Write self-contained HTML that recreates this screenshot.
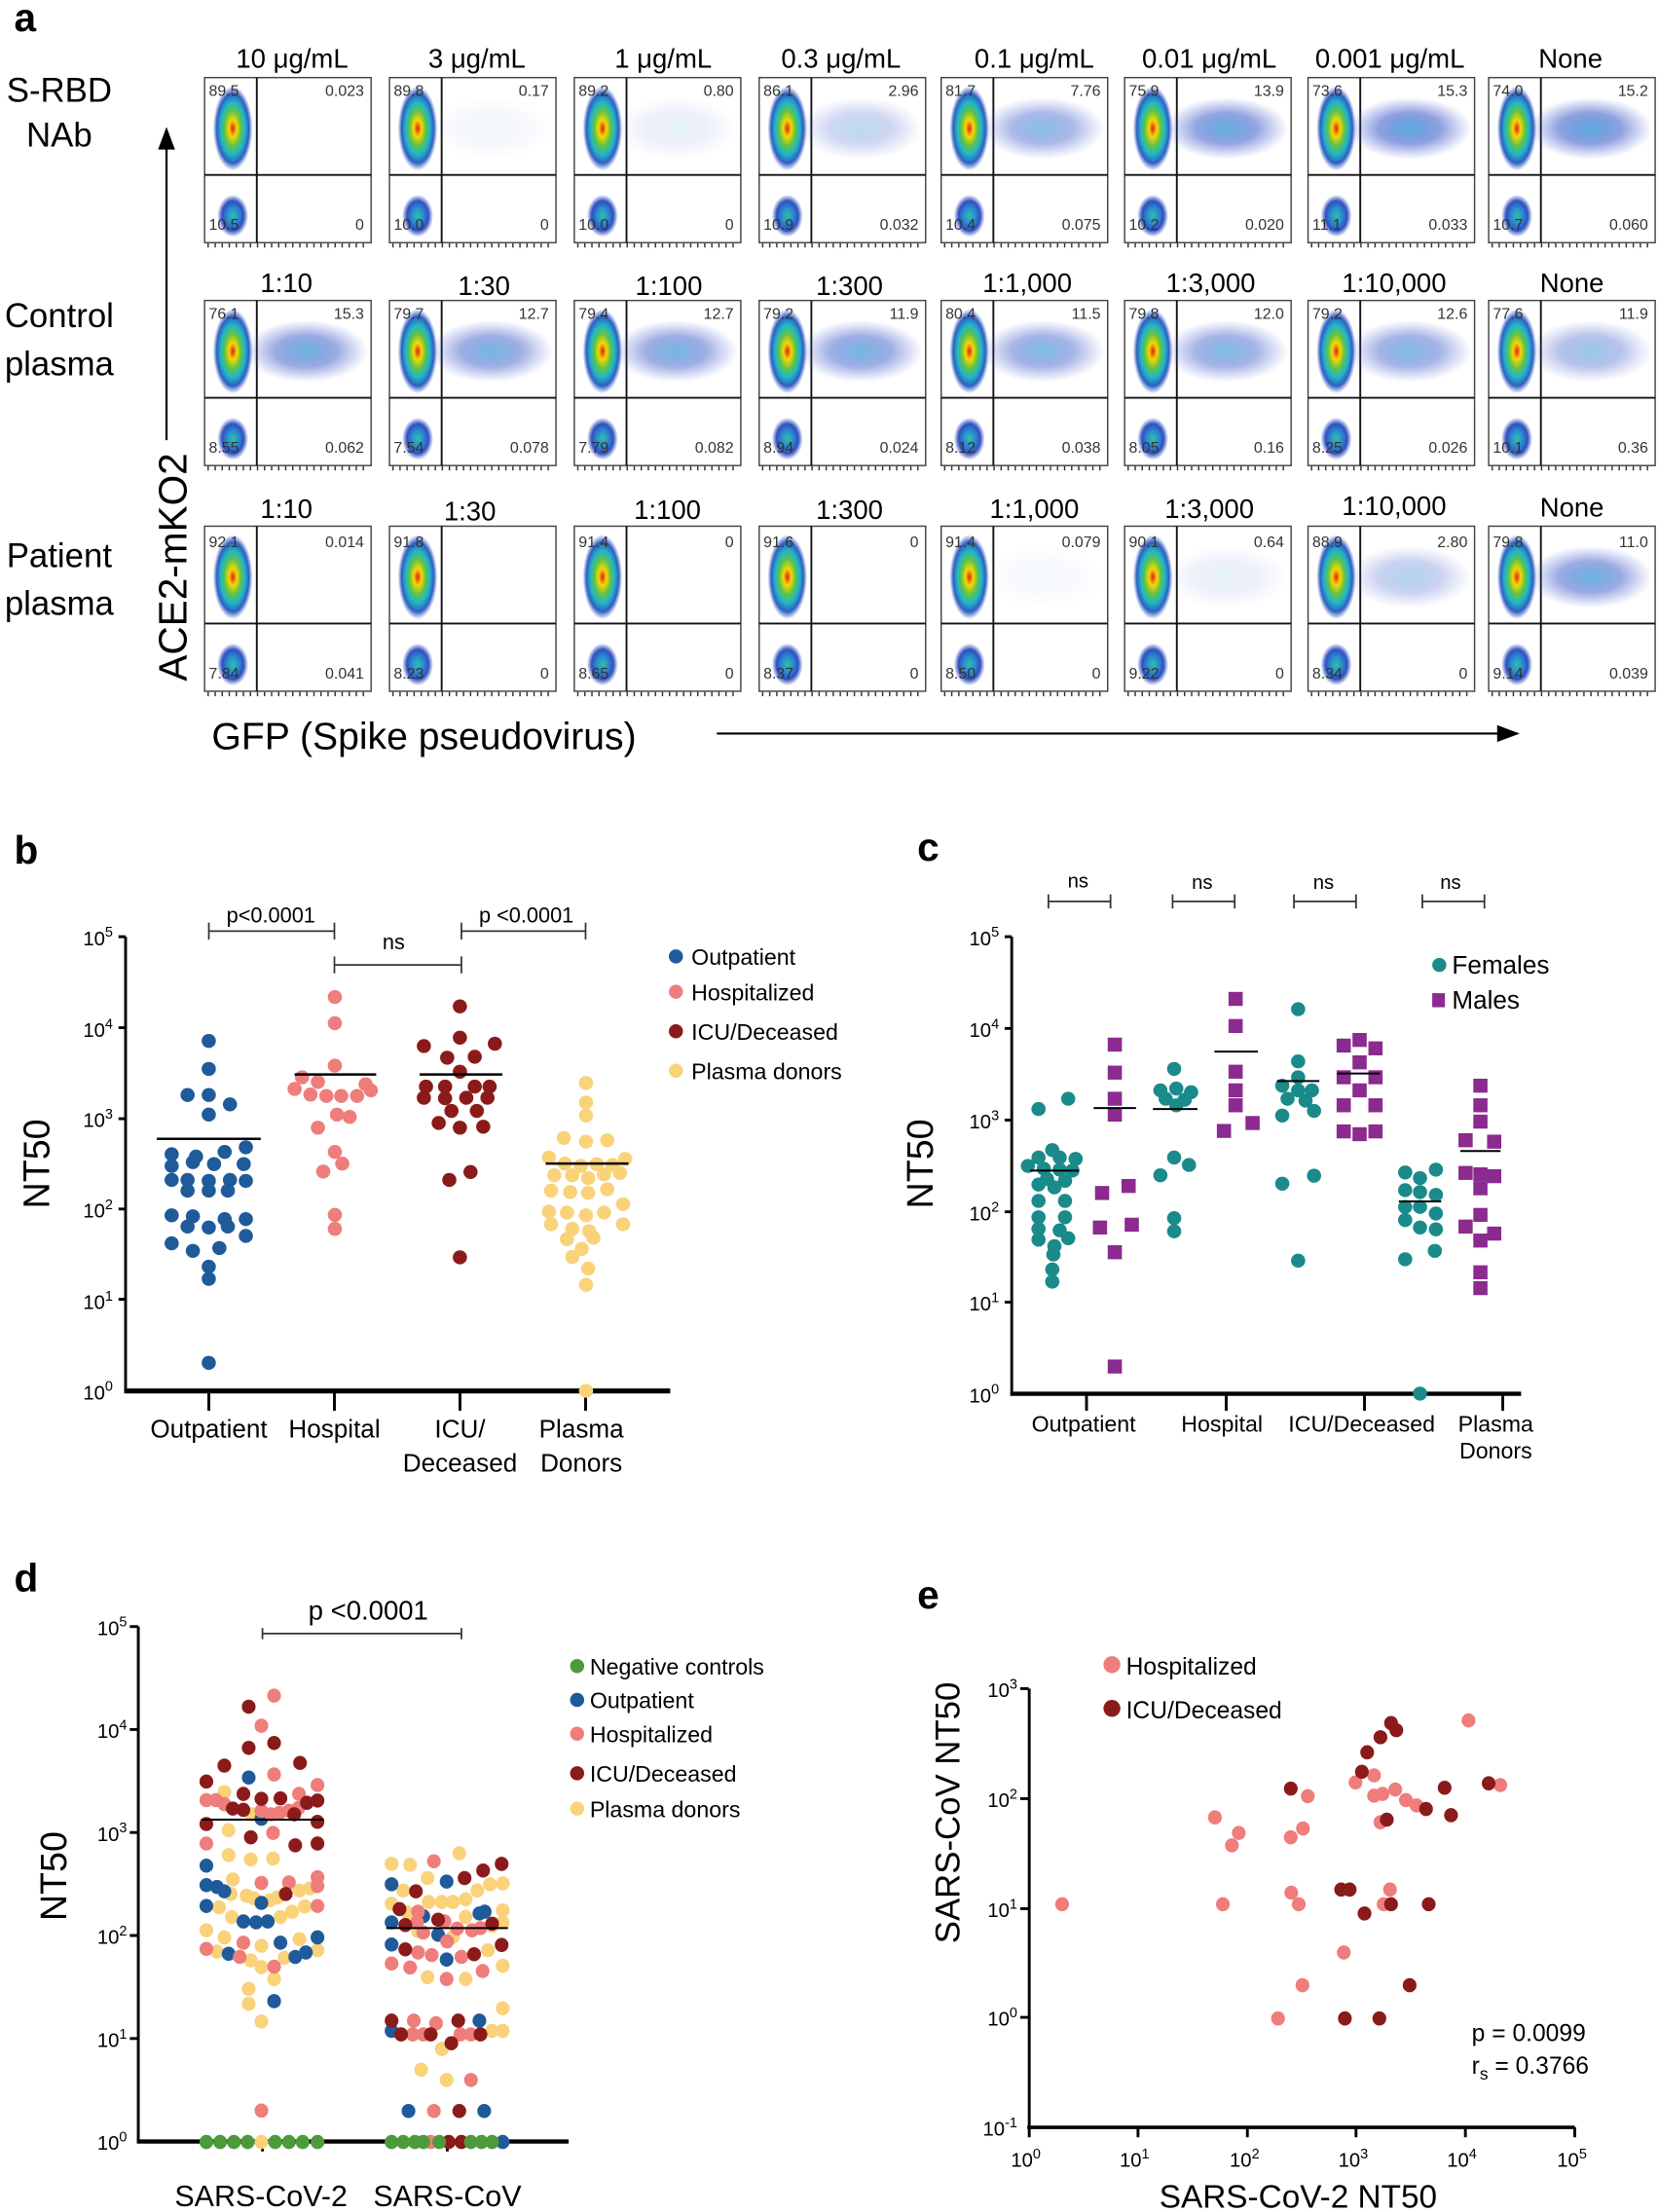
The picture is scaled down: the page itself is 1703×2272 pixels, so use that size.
<!DOCTYPE html>
<html><head><meta charset="utf-8"><style>
html,body{margin:0;padding:0;background:#fff}
svg{display:block}
text{font-family:"Liberation Sans",sans-serif}
.n{font-size:11px;fill:#333}
.h{font-size:19px}
.rl{font-size:24px}
.tk{font-size:14px}
.lg{font-size:16px}
</style></head><body>
<svg width="1703" height="2272" viewBox="0 0 1175 1568" preserveAspectRatio="none" xmlns="http://www.w3.org/2000/svg">
<defs>
<radialGradient id="hot"><stop offset="0" stop-color="#e0201a"/><stop offset="0.2" stop-color="#f5d800"/><stop offset="0.42" stop-color="#5ec24a"/><stop offset="0.62" stop-color="#21b6c9"/><stop offset="0.82" stop-color="#2f5fc0"/><stop offset="1" stop-color="#3b5fd0" stop-opacity="0"/></radialGradient>
<radialGradient id="cool"><stop offset="0" stop-color="#30c0a0"/><stop offset="0.35" stop-color="#2a90d0"/><stop offset="0.7" stop-color="#3050c0"/><stop offset="1" stop-color="#3050c0" stop-opacity="0"/></radialGradient>
<radialGradient id="cld"><stop offset="0" stop-color="#3aa0d8" stop-opacity="0.9"/><stop offset="0.5" stop-color="#3a58c8" stop-opacity="0.6"/><stop offset="1" stop-color="#4a60d0" stop-opacity="0"/></radialGradient>
<symbol id="fp" overflow="visible">
<rect x="0" y="0" width="118" height="117" fill="#fff" stroke="#444" stroke-width="1"/>
<ellipse cx="20" cy="36" rx="14" ry="30" fill="url(#hot)"/>
<ellipse cx="20" cy="98" rx="11" ry="15" fill="url(#cool)"/>
<line x1="0" y1="69" x2="118" y2="69" stroke="#111" stroke-width="1.3"/>
<line x1="37" y1="0" x2="37" y2="117" stroke="#111" stroke-width="1.3"/>
<line x1="2" y1="119" x2="116" y2="119" stroke="#333" stroke-width="3" stroke-dasharray="1 4"/>
</symbol>
<symbol id="cl" overflow="visible"><ellipse cx="72" cy="36" rx="44" ry="22" fill="url(#cld)"/></symbol>
<ellipse id="db" rx="6.7" ry="15"/>
<rect id="sq" x="-6.7" y="-15" width="13.4" height="30"/>
<ellipse id="dd" rx="13" ry="16"/>
</defs>

<!-- Panel a -->
<text x="10" y="22" style="font-size:28px;font-weight:bold">a</text>
<text class="rl" x="42" y="72" text-anchor="middle">S-RBD</text>
<text class="rl" x="42" y="104" text-anchor="middle">NAb</text>
<text class="rl" x="42" y="232" text-anchor="middle">Control</text>
<text class="rl" x="42" y="266" text-anchor="middle">plasma</text>
<text class="rl" x="42" y="402" text-anchor="middle">Patient</text>
<text class="rl" x="42" y="436" text-anchor="middle">plasma</text>
<line x1="118" y1="312" x2="118" y2="100" stroke="#000" stroke-width="1.5"/>
<polygon points="118,90 112,106 124,106" fill="#000"/>
<text x="132" y="402" transform="rotate(-90 132 402)" text-anchor="middle" style="font-size:28px">ACE2-mKO2</text>
<text x="150" y="531" style="font-size:27px">GFP (Spike pseudovirus)</text>
<line x1="508" y1="520" x2="1065" y2="520" stroke="#000" stroke-width="1.5"/>
<polygon points="1077,520 1061,514 1061,526" fill="#000"/>

<g class="h" text-anchor="middle">
<text x="207" y="48">10 μg/mL</text><text x="338" y="48">3 μg/mL</text><text x="470" y="48">1 μg/mL</text><text x="596" y="48">0.3 μg/mL</text><text x="733" y="48">0.1 μg/mL</text><text x="857" y="48">0.01 μg/mL</text><text x="985" y="48">0.001 μg/mL</text><text x="1113" y="48">None</text>
<text x="203" y="207">1:10</text><text x="343" y="209">1:30</text><text x="474" y="209">1:100</text><text x="602" y="209">1:300</text><text x="728" y="207">1:1,000</text><text x="858" y="207">1:3,000</text><text x="988" y="207">1:10,000</text><text x="1114" y="207">None</text>
<text x="203" y="367">1:10</text><text x="333" y="369">1:30</text><text x="473" y="368">1:100</text><text x="602" y="368">1:300</text><text x="733" y="367">1:1,000</text><text x="857" y="367">1:3,000</text><text x="988" y="365">1:10,000</text><text x="1114" y="366">None</text>
</g>

<g transform="translate(145,55)"><use href="#fp"/><text class="n" x="3" y="13">89.5</text><text class="n" x="113" y="13" text-anchor="end">0.023</text><text class="n" x="3" y="108">10.5</text><text class="n" x="113" y="108" text-anchor="end">0</text></g>
<g transform="translate(276,55)"><use href="#fp"/><use href="#cl" opacity="0.08"/><text class="n" x="3" y="13">89.8</text><text class="n" x="113" y="13" text-anchor="end">0.17</text><text class="n" x="3" y="108">10.0</text><text class="n" x="113" y="108" text-anchor="end">0</text></g>
<g transform="translate(407,55)"><use href="#fp"/><use href="#cl" opacity="0.15"/><text class="n" x="3" y="13">89.2</text><text class="n" x="113" y="13" text-anchor="end">0.80</text><text class="n" x="3" y="108">10.0</text><text class="n" x="113" y="108" text-anchor="end">0</text></g>
<g transform="translate(538,55)"><use href="#fp"/><use href="#cl" opacity="0.4"/><text class="n" x="3" y="13">86.1</text><text class="n" x="113" y="13" text-anchor="end">2.96</text><text class="n" x="3" y="108">10.9</text><text class="n" x="113" y="108" text-anchor="end">0.032</text></g>
<g transform="translate(667,55)"><use href="#fp"/><use href="#cl" opacity="0.7"/><text class="n" x="3" y="13">81.7</text><text class="n" x="113" y="13" text-anchor="end">7.76</text><text class="n" x="3" y="108">10.4</text><text class="n" x="113" y="108" text-anchor="end">0.075</text></g>
<g transform="translate(797,55)"><use href="#fp"/><use href="#cl" opacity="0.9"/><text class="n" x="3" y="13">75.9</text><text class="n" x="113" y="13" text-anchor="end">13.9</text><text class="n" x="3" y="108">10.2</text><text class="n" x="113" y="108" text-anchor="end">0.020</text></g>
<g transform="translate(927,55)"><use href="#fp"/><use href="#cl" opacity="0.95"/><text class="n" x="3" y="13">73.6</text><text class="n" x="113" y="13" text-anchor="end">15.3</text><text class="n" x="3" y="108">11.1</text><text class="n" x="113" y="108" text-anchor="end">0.033</text></g>
<g transform="translate(1055,55)"><use href="#fp"/><use href="#cl" opacity="0.95"/><text class="n" x="3" y="13">74.0</text><text class="n" x="113" y="13" text-anchor="end">15.2</text><text class="n" x="3" y="108">10.7</text><text class="n" x="113" y="108" text-anchor="end">0.060</text></g>

<g transform="translate(145,213)"><use href="#fp"/><use href="#cl" opacity="0.85"/><text class="n" x="3" y="13">76.1</text><text class="n" x="113" y="13" text-anchor="end">15.3</text><text class="n" x="3" y="108">8.55</text><text class="n" x="113" y="108" text-anchor="end">0.062</text></g>
<g transform="translate(276,213)"><use href="#fp"/><use href="#cl" opacity="0.8"/><text class="n" x="3" y="13">79.7</text><text class="n" x="113" y="13" text-anchor="end">12.7</text><text class="n" x="3" y="108">7.54</text><text class="n" x="113" y="108" text-anchor="end">0.078</text></g>
<g transform="translate(407,213)"><use href="#fp"/><use href="#cl" opacity="0.8"/><text class="n" x="3" y="13">79.4</text><text class="n" x="113" y="13" text-anchor="end">12.7</text><text class="n" x="3" y="108">7.79</text><text class="n" x="113" y="108" text-anchor="end">0.082</text></g>
<g transform="translate(538,213)"><use href="#fp"/><use href="#cl" opacity="0.8"/><text class="n" x="3" y="13">79.2</text><text class="n" x="113" y="13" text-anchor="end">11.9</text><text class="n" x="3" y="108">8.94</text><text class="n" x="113" y="108" text-anchor="end">0.024</text></g>
<g transform="translate(667,213)"><use href="#fp"/><use href="#cl" opacity="0.75"/><text class="n" x="3" y="13">80.4</text><text class="n" x="113" y="13" text-anchor="end">11.5</text><text class="n" x="3" y="108">8.12</text><text class="n" x="113" y="108" text-anchor="end">0.038</text></g>
<g transform="translate(797,213)"><use href="#fp"/><use href="#cl" opacity="0.75"/><text class="n" x="3" y="13">79.8</text><text class="n" x="113" y="13" text-anchor="end">12.0</text><text class="n" x="3" y="108">8.05</text><text class="n" x="113" y="108" text-anchor="end">0.16</text></g>
<g transform="translate(927,213)"><use href="#fp"/><use href="#cl" opacity="0.75"/><text class="n" x="3" y="13">79.2</text><text class="n" x="113" y="13" text-anchor="end">12.6</text><text class="n" x="3" y="108">8.25</text><text class="n" x="113" y="108" text-anchor="end">0.026</text></g>
<g transform="translate(1055,213)"><use href="#fp"/><use href="#cl" opacity="0.6"/><text class="n" x="3" y="13">77.6</text><text class="n" x="113" y="13" text-anchor="end">11.9</text><text class="n" x="3" y="108">10.1</text><text class="n" x="113" y="108" text-anchor="end">0.36</text></g>

<g transform="translate(145,373)"><use href="#fp"/><text class="n" x="3" y="15">92.1</text><text class="n" x="113" y="15" text-anchor="end">0.014</text><text class="n" x="3" y="108">7.84</text><text class="n" x="113" y="108" text-anchor="end">0.041</text></g>
<g transform="translate(276,373)"><use href="#fp"/><text class="n" x="3" y="15">91.8</text><text class="n" x="3" y="108">8.23</text><text class="n" x="113" y="108" text-anchor="end">0</text></g>
<g transform="translate(407,373)"><use href="#fp"/><text class="n" x="3" y="15">91.4</text><text class="n" x="113" y="15" text-anchor="end">0</text><text class="n" x="3" y="108">8.65</text><text class="n" x="113" y="108" text-anchor="end">0</text></g>
<g transform="translate(538,373)"><use href="#fp"/><text class="n" x="3" y="15">91.6</text><text class="n" x="113" y="15" text-anchor="end">0</text><text class="n" x="3" y="108">8.37</text><text class="n" x="113" y="108" text-anchor="end">0</text></g>
<g transform="translate(667,373)"><use href="#fp"/><use href="#cl" opacity="0.06"/><text class="n" x="3" y="15">91.4</text><text class="n" x="113" y="15" text-anchor="end">0.079</text><text class="n" x="3" y="108">8.50</text><text class="n" x="113" y="108" text-anchor="end">0</text></g>
<g transform="translate(797,373)"><use href="#fp"/><use href="#cl" opacity="0.15"/><text class="n" x="3" y="15">90.1</text><text class="n" x="113" y="15" text-anchor="end">0.64</text><text class="n" x="3" y="108">9.22</text><text class="n" x="113" y="108" text-anchor="end">0</text></g>
<g transform="translate(927,373)"><use href="#fp"/><use href="#cl" opacity="0.45"/><text class="n" x="3" y="15">88.9</text><text class="n" x="113" y="15" text-anchor="end">2.80</text><text class="n" x="3" y="108">8.34</text><text class="n" x="113" y="108" text-anchor="end">0</text></g>
<g transform="translate(1055,373)"><use href="#fp"/><use href="#cl" opacity="0.85"/><text class="n" x="3" y="15">79.8</text><text class="n" x="113" y="15" text-anchor="end">11.0</text><text class="n" x="3" y="108">9.14</text><text class="n" x="113" y="108" text-anchor="end">0.039</text></g>

<!-- Panel b -->
<text x="10" y="612" style="font-size:28px;font-weight:bold">b</text>
<text x="35" y="825" transform="rotate(-90 35 825)" text-anchor="middle" style="font-size:26px">NT50</text>
<g stroke="#000" stroke-width="2" fill="none">
<line x1="89" y1="664" x2="89" y2="987"/>
<line x1="88" y1="986" x2="475" y2="986" stroke-width="3.5"/>
<path d="M84 664H89M84 728.5H89M84 793H89M84 857H89M84 921H89"/>
<path d="M148 986V1000M237 986V1000M326 986V1000M415 986V1000"/>
</g>
<g class="tk" text-anchor="end">
<text x="80" y="670">10<tspan dy="-6" font-size="10">5</tspan></text>
<text x="80" y="735">10<tspan dy="-6" font-size="10">4</tspan></text>
<text x="80" y="799">10<tspan dy="-6" font-size="10">3</tspan></text>
<text x="80" y="863">10<tspan dy="-6" font-size="10">2</tspan></text>
<text x="80" y="928">10<tspan dy="-6" font-size="10">1</tspan></text>
<text x="80" y="992">10<tspan dy="-6" font-size="10">0</tspan></text>
</g>
<g text-anchor="middle" style="font-size:18px">
<text x="148" y="1019">Outpatient</text><text x="237" y="1019">Hospital</text><text x="326" y="1019">ICU/</text><text x="326" y="1043">Deceased</text><text x="412" y="1019">Plasma</text><text x="412" y="1043">Donors</text>
</g>
<g stroke="#333" stroke-width="1.2" fill="none">
<path d="M148 654V666M148 660H237M237 654V666"/>
<path d="M237 678V690M237 684H327M327 678V690"/>
<path d="M327 654V666M327 660H415M415 654V666"/>
</g>
<g text-anchor="middle" style="font-size:15px"><text x="192" y="654">p&lt;0.0001</text><text x="279" y="673">ns</text><text x="373" y="654">p &lt;0.0001</text></g>
<circle cx="479" cy="678" r="5" fill="#1f5a9a"/><circle cx="479" cy="703" r="5" fill="#ef7d7b"/><circle cx="479" cy="731" r="5" fill="#8b1a1a"/><circle cx="479" cy="759" r="5" fill="#f9d27a"/>
<g class="lg"><text x="490" y="684">Outpatient</text><text x="490" y="709">Hospitalized</text><text x="490" y="737">ICU/Deceased</text><text x="490" y="765">Plasma donors</text></g>

<g transform="translate(0,552) scale(0.751,0.3307)">
<g fill="#1f5a9a">
<use href="#db" x="197" y="562"/><use href="#db" x="197" y="622"/><use href="#db" x="177" y="678"/><use href="#db" x="197" y="678"/><use href="#db" x="217" y="698"/><use href="#db" x="197" y="720"/><use href="#db" x="232" y="790"/><use href="#db" x="162" y="805"/><use href="#db" x="185" y="810"/><use href="#db" x="212" y="800"/><use href="#db" x="162" y="830"/><use href="#db" x="182" y="822"/><use href="#db" x="202" y="826"/><use href="#db" x="230" y="826"/><use href="#db" x="162" y="860"/><use href="#db" x="177" y="860"/><use href="#db" x="197" y="862"/><use href="#db" x="217" y="860"/><use href="#db" x="232" y="862"/><use href="#db" x="177" y="883"/><use href="#db" x="197" y="883"/><use href="#db" x="215" y="883"/><use href="#db" x="162" y="936"/><use href="#db" x="182" y="938"/><use href="#db" x="212" y="944"/><use href="#db" x="232" y="944"/><use href="#db" x="177" y="960"/><use href="#db" x="197" y="962"/><use href="#db" x="215" y="960"/><use href="#db" x="232" y="980"/><use href="#db" x="162" y="996"/><use href="#db" x="182" y="1012"/><use href="#db" x="207" y="1006"/><use href="#db" x="197" y="1046"/><use href="#db" x="197" y="1072"/><use href="#db" x="197" y="1252"/>
</g>
<g fill="#ef7d7b">
<use href="#db" x="316" y="468"/><use href="#db" x="316" y="524"/><use href="#db" x="316" y="615"/><use href="#db" x="285" y="640"/><use href="#db" x="300" y="650"/><use href="#db" x="345" y="655"/><use href="#db" x="278" y="665"/><use href="#db" x="293" y="677"/><use href="#db" x="308" y="680"/><use href="#db" x="322" y="680"/><use href="#db" x="337" y="680"/><use href="#db" x="350" y="668"/><use href="#db" x="318" y="720"/><use href="#db" x="300" y="748"/><use href="#db" x="330" y="725"/><use href="#db" x="316" y="800"/><use href="#db" x="323" y="825"/><use href="#db" x="305" y="842"/><use href="#db" x="316" y="935"/><use href="#db" x="316" y="965"/>
</g>
<g fill="#8b1a1a">
<use href="#db" x="434" y="488"/><use href="#db" x="434" y="555"/><use href="#db" x="400" y="573"/><use href="#db" x="467" y="568"/><use href="#db" x="422" y="598"/><use href="#db" x="448" y="596"/><use href="#db" x="434" y="628"/><use href="#db" x="402" y="660"/><use href="#db" x="420" y="660"/><use href="#db" x="448" y="660"/><use href="#db" x="462" y="660"/><use href="#db" x="400" y="684"/><use href="#db" x="420" y="685"/><use href="#db" x="440" y="684"/><use href="#db" x="460" y="684"/><use href="#db" x="426" y="712"/><use href="#db" x="450" y="712"/><use href="#db" x="414" y="738"/><use href="#db" x="434" y="748"/><use href="#db" x="456" y="746"/><use href="#db" x="444" y="843"/><use href="#db" x="424" y="860"/><use href="#db" x="434" y="1026"/>
</g>
<g fill="#f9d27a">
<use href="#db" x="553" y="652"/><use href="#db" x="553" y="694"/><use href="#db" x="553" y="722"/><use href="#db" x="532" y="770"/><use href="#db" x="553" y="778"/><use href="#db" x="573" y="775"/><use href="#db" x="518" y="812"/><use href="#db" x="533" y="825"/><use href="#db" x="548" y="830"/><use href="#db" x="563" y="826"/><use href="#db" x="578" y="828"/><use href="#db" x="590" y="815"/><use href="#db" x="523" y="850"/><use href="#db" x="540" y="850"/><use href="#db" x="555" y="856"/><use href="#db" x="570" y="848"/><use href="#db" x="585" y="845"/><use href="#db" x="520" y="883"/><use href="#db" x="538" y="886"/><use href="#db" x="555" y="888"/><use href="#db" x="573" y="880"/><use href="#db" x="588" y="912"/><use href="#db" x="518" y="928"/><use href="#db" x="535" y="930"/><use href="#db" x="553" y="936"/><use href="#db" x="570" y="930"/><use href="#db" x="520" y="955"/><use href="#db" x="540" y="965"/><use href="#db" x="556" y="970"/><use href="#db" x="588" y="955"/><use href="#db" x="535" y="987"/><use href="#db" x="560" y="984"/><use href="#db" x="549" y="1008"/><use href="#db" x="540" y="1025"/><use href="#db" x="555" y="1050"/><use href="#db" x="553" y="1085"/><use href="#db" x="553" y="1312"/>
</g>
<g stroke="#000" stroke-width="2.5">
<line x1="148" y1="772" x2="246" y2="772" vector-effect="non-scaling-stroke"/><line x1="278" y1="634" x2="355" y2="634" vector-effect="non-scaling-stroke"/><line x1="396" y1="634" x2="474" y2="634" vector-effect="non-scaling-stroke"/><line x1="515" y1="825" x2="593" y2="825" vector-effect="non-scaling-stroke"/>
</g>
</g>

<!-- Panel c -->
<text x="650" y="610" style="font-size:28px;font-weight:bold">c</text>
<text x="661" y="825" transform="rotate(-90 661 825)" text-anchor="middle" style="font-size:26px">NT50</text>
<g stroke="#000" stroke-width="2" fill="none">
<line x1="717" y1="664" x2="717" y2="989"/>
<line x1="716" y1="988" x2="1078" y2="988" stroke-width="3"/>
<path d="M712 664H717M712 729H717M712 794H717M712 859H717M712 923H717"/>
<path d="M770 988V1000M869 988V1000M967 988V1000M1065 988V1000"/>
</g>
<g class="tk" text-anchor="end">
<text x="708" y="670">10<tspan dy="-6" font-size="10">5</tspan></text>
<text x="708" y="735">10<tspan dy="-6" font-size="10">4</tspan></text>
<text x="708" y="800">10<tspan dy="-6" font-size="10">3</tspan></text>
<text x="708" y="865">10<tspan dy="-6" font-size="10">2</tspan></text>
<text x="708" y="929">10<tspan dy="-6" font-size="10">1</tspan></text>
<text x="708" y="994">10<tspan dy="-6" font-size="10">0</tspan></text>
</g>
<g text-anchor="middle" style="font-size:16px">
<text x="768" y="1015">Outpatient</text><text x="866" y="1015">Hospital</text><text x="965" y="1015">ICU/Deceased</text><text x="1060" y="1015">Plasma</text><text x="1060" y="1034">Donors</text>
</g>
<g stroke="#333" stroke-width="1.2" fill="none">
<path d="M743 634V644M743 639H787M787 634V644"/>
<path d="M831 634V644M831 639H875M875 634V644"/>
<path d="M917 634V644M917 639H961M961 634V644"/>
<path d="M1008 634V644M1008 639H1052M1052 634V644"/>
</g>
<g text-anchor="middle" style="font-size:14px"><text x="764" y="629">ns</text><text x="852" y="630">ns</text><text x="938" y="630">ns</text><text x="1028" y="630">ns</text></g>
<circle cx="1020" cy="684" r="5" fill="#1a8a8a"/><rect x="1015" y="704" width="9" height="10" fill="#8b2a8f"/>
<g style="font-size:18px"><text x="1029" y="690">Females</text><text x="1029" y="715">Males</text></g>

<g transform="translate(0,552) scale(0.751,0.3307)">
<g fill="#1a8a8a">
<use href="#db" x="980" y="708"/><use href="#db" x="1008" y="686"/><use href="#db" x="993" y="796"/><use href="#db" x="980" y="812"/><use href="#db" x="1000" y="812"/><use href="#db" x="1015" y="815"/><use href="#db" x="970" y="830"/><use href="#db" x="985" y="836"/><use href="#db" x="1000" y="838"/><use href="#db" x="1012" y="840"/><use href="#db" x="988" y="858"/><use href="#db" x="1005" y="862"/><use href="#db" x="980" y="870"/><use href="#db" x="995" y="876"/><use href="#db" x="980" y="905"/><use href="#db" x="1005" y="905"/><use href="#db" x="980" y="940"/><use href="#db" x="1005" y="940"/><use href="#db" x="980" y="965"/><use href="#db" x="1000" y="968"/><use href="#db" x="1008" y="985"/><use href="#db" x="980" y="988"/><use href="#db" x="995" y="1002"/><use href="#db" x="994" y="1020"/><use href="#db" x="993" y="1052"/><use href="#db" x="993" y="1078"/>
<use href="#db" x="1108" y="622"/><use href="#db" x="1095" y="668"/><use href="#db" x="1110" y="664"/><use href="#db" x="1124" y="672"/><use href="#db" x="1100" y="686"/><use href="#db" x="1118" y="688"/><use href="#db" x="1110" y="700"/><use href="#db" x="1108" y="812"/><use href="#db" x="1122" y="828"/><use href="#db" x="1095" y="850"/><use href="#db" x="1108" y="942"/><use href="#db" x="1108" y="970"/>
<use href="#db" x="1225" y="494"/><use href="#db" x="1225" y="606"/><use href="#db" x="1225" y="640"/><use href="#db" x="1210" y="658"/><use href="#db" x="1225" y="668"/><use href="#db" x="1238" y="668"/><use href="#db" x="1215" y="686"/><use href="#db" x="1232" y="690"/><use href="#db" x="1210" y="722"/><use href="#db" x="1240" y="712"/><use href="#db" x="1210" y="868"/><use href="#db" x="1240" y="851"/><use href="#db" x="1225" y="1033"/>
<use href="#db" x="1326" y="844"/><use href="#db" x="1340" y="856"/><use href="#db" x="1355" y="838"/><use href="#db" x="1326" y="882"/><use href="#db" x="1340" y="886"/><use href="#db" x="1355" y="892"/><use href="#db" x="1326" y="918"/><use href="#db" x="1340" y="918"/><use href="#db" x="1355" y="932"/><use href="#db" x="1326" y="946"/><use href="#db" x="1340" y="962"/><use href="#db" x="1355" y="966"/><use href="#db" x="1326" y="1030"/><use href="#db" x="1354" y="1012"/><use href="#db" x="1340" y="1318"/>
</g>
<g fill="#8b2a8f">
<use href="#sq" x="1052" y="570"/><use href="#sq" x="1052" y="630"/><use href="#sq" x="1052" y="686"/><use href="#sq" x="1052" y="720"/><use href="#sq" x="1040" y="888"/><use href="#sq" x="1065" y="873"/><use href="#sq" x="1038" y="962"/><use href="#sq" x="1068" y="956"/><use href="#sq" x="1052" y="1015"/><use href="#sq" x="1052" y="1260"/>
<use href="#sq" x="1166" y="472"/><use href="#sq" x="1166" y="530"/><use href="#sq" x="1166" y="628"/><use href="#sq" x="1166" y="668"/><use href="#sq" x="1166" y="700"/><use href="#sq" x="1155" y="755"/><use href="#sq" x="1182" y="738"/>
<use href="#sq" x="1283" y="560"/><use href="#sq" x="1268" y="572"/><use href="#sq" x="1298" y="578"/><use href="#sq" x="1283" y="608"/><use href="#sq" x="1268" y="640"/><use href="#sq" x="1298" y="640"/><use href="#sq" x="1283" y="668"/><use href="#sq" x="1268" y="700"/><use href="#sq" x="1298" y="700"/><use href="#sq" x="1268" y="756"/><use href="#sq" x="1298" y="756"/><use href="#sq" x="1283" y="762"/>
<use href="#sq" x="1397" y="658"/><use href="#sq" x="1397" y="700"/><use href="#sq" x="1397" y="735"/><use href="#sq" x="1383" y="775"/><use href="#sq" x="1410" y="778"/><use href="#sq" x="1383" y="845"/><use href="#sq" x="1397" y="848"/><use href="#sq" x="1410" y="852"/><use href="#sq" x="1397" y="878"/><use href="#sq" x="1383" y="960"/><use href="#sq" x="1410" y="975"/><use href="#sq" x="1397" y="935"/><use href="#sq" x="1397" y="990"/><use href="#sq" x="1397" y="1058"/><use href="#sq" x="1397" y="1092"/>
</g>
<g stroke="#000" stroke-width="2">
<line x1="972" y1="840" x2="1018" y2="840" vector-effect="non-scaling-stroke"/><line x1="1032" y1="706" x2="1072" y2="706" vector-effect="non-scaling-stroke"/><line x1="1088" y1="708" x2="1130" y2="708" vector-effect="non-scaling-stroke"/><line x1="1146" y1="585" x2="1187" y2="585" vector-effect="non-scaling-stroke"/><line x1="1205" y1="648" x2="1245" y2="648" vector-effect="non-scaling-stroke"/><line x1="1262" y1="632" x2="1302" y2="632" vector-effect="non-scaling-stroke"/><line x1="1320" y1="906" x2="1360" y2="906" vector-effect="non-scaling-stroke"/><line x1="1378" y1="798" x2="1416" y2="798" vector-effect="non-scaling-stroke"/>
</g>
</g>

<!-- Panel d -->
<text x="10" y="1128" style="font-size:28px;font-weight:bold">d</text>
<text x="47" y="1330" transform="rotate(-90 47 1330)" text-anchor="middle" style="font-size:26px">NT50</text>
<g stroke="#000" stroke-width="2" fill="none">
<line x1="98" y1="1153" x2="98" y2="1519"/>
<line x1="97" y1="1518" x2="403" y2="1518" stroke-width="3"/>
<path d="M92 1153H98M92 1226H98M92 1299H98M92 1372H98M92 1445H98"/>
<path d="M186 1518V1525M317 1518V1525"/>
</g>
<g class="tk" text-anchor="end">
<text x="90" y="1159">10<tspan dy="-6" font-size="10">5</tspan></text>
<text x="90" y="1232">10<tspan dy="-6" font-size="10">4</tspan></text>
<text x="90" y="1305">10<tspan dy="-6" font-size="10">3</tspan></text>
<text x="90" y="1378">10<tspan dy="-6" font-size="10">2</tspan></text>
<text x="90" y="1451">10<tspan dy="-6" font-size="10">1</tspan></text>
<text x="90" y="1524">10<tspan dy="-6" font-size="10">0</tspan></text>
</g>
<g text-anchor="middle" style="font-size:21px"><text x="185" y="1564">SARS-CoV-2</text><text x="317" y="1564">SARS-CoV</text></g>
<path d="M186 1154V1162M186 1158H327M327 1154V1162" stroke="#333" stroke-width="1.2" fill="none"/>
<text x="261" y="1148" text-anchor="middle" style="font-size:19px">p &lt;0.0001</text>
<circle cx="409" cy="1181" r="5" fill="#4c9a3c"/><circle cx="409" cy="1205" r="5" fill="#1f5a9a"/><circle cx="409" cy="1229" r="5" fill="#ef7d7b"/><circle cx="409" cy="1257" r="5" fill="#8b1a1a"/><circle cx="409" cy="1282" r="5" fill="#f9d27a"/>
<g class="lg"><text x="418" y="1187">Negative controls</text><text x="418" y="1211">Outpatient</text><text x="418" y="1235">Hospitalized</text><text x="418" y="1263">ICU/Deceased</text><text x="418" y="1288">Plasma donors</text></g>

<g transform="translate(0,1076.4) scale(0.375,0.3139)">
<g fill="#f9d27a">
<use href="#dd" x="424" y="618"/><use href="#dd" x="476" y="668"/><use href="#dd" x="432" y="704"/><use href="#dd" x="432" y="760"/><use href="#dd" x="474" y="770"/><use href="#dd" x="516" y="768"/><use href="#dd" x="440" y="815"/><use href="#dd" x="436" y="848"/><use href="#dd" x="466" y="852"/><use href="#dd" x="480" y="858"/><use href="#dd" x="510" y="862"/><use href="#dd" x="524" y="856"/><use href="#dd" x="566" y="840"/><use href="#dd" x="586" y="835"/><use href="#dd" x="414" y="878"/><use href="#dd" x="438" y="900"/><use href="#dd" x="530" y="900"/><use href="#dd" x="552" y="888"/><use href="#dd" x="576" y="876"/><use href="#dd" x="390" y="930"/><use href="#dd" x="424" y="946"/><use href="#dd" x="566" y="950"/><use href="#dd" x="494" y="965"/><use href="#dd" x="410" y="978"/><use href="#dd" x="474" y="998"/><use href="#dd" x="494" y="1013"/><use href="#dd" x="538" y="992"/><use href="#dd" x="600" y="975"/><use href="#dd" x="518" y="1040"/><use href="#dd" x="470" y="1062"/><use href="#dd" x="470" y="1096"/><use href="#dd" x="494" y="1136"/>
<use href="#dd" x="740" y="780"/><use href="#dd" x="775" y="782"/><use href="#dd" x="868" y="756"/><use href="#dd" x="762" y="840"/><use href="#dd" x="808" y="812"/><use href="#dd" x="810" y="866"/><use href="#dd" x="835" y="866"/><use href="#dd" x="856" y="866"/><use href="#dd" x="880" y="860"/><use href="#dd" x="902" y="840"/><use href="#dd" x="926" y="826"/><use href="#dd" x="950" y="824"/><use href="#dd" x="740" y="870"/><use href="#dd" x="770" y="890"/><use href="#dd" x="880" y="900"/><use href="#dd" x="790" y="932"/><use href="#dd" x="856" y="945"/><use href="#dd" x="930" y="920"/><use href="#dd" x="950" y="885"/><use href="#dd" x="950" y="912"/><use href="#dd" x="922" y="975"/><use href="#dd" x="808" y="1036"/><use href="#dd" x="880" y="1040"/><use href="#dd" x="950" y="1010"/><use href="#dd" x="950" y="1106"/><use href="#dd" x="930" y="1157"/><use href="#dd" x="950" y="1157"/><use href="#dd" x="835" y="1198"/><use href="#dd" x="796" y="1245"/><use href="#dd" x="844" y="1268"/>
</g>
<g fill="#1f5a9a">
<use href="#dd" x="470" y="585"/><use href="#dd" x="494" y="678"/><use href="#dd" x="390" y="784"/><use href="#dd" x="390" y="828"/><use href="#dd" x="410" y="832"/><use href="#dd" x="424" y="842"/><use href="#dd" x="390" y="875"/><use href="#dd" x="494" y="868"/><use href="#dd" x="460" y="910"/><use href="#dd" x="484" y="912"/><use href="#dd" x="506" y="910"/><use href="#dd" x="530" y="958"/><use href="#dd" x="600" y="946"/><use href="#dd" x="432" y="983"/><use href="#dd" x="558" y="990"/><use href="#dd" x="578" y="980"/><use href="#dd" x="518" y="1090"/>
<use href="#dd" x="740" y="826"/><use href="#dd" x="844" y="820"/><use href="#dd" x="740" y="912"/><use href="#dd" x="800" y="898"/><use href="#dd" x="828" y="940"/><use href="#dd" x="906" y="892"/><use href="#dd" x="916" y="888"/><use href="#dd" x="740" y="962"/><use href="#dd" x="844" y="996"/><use href="#dd" x="740" y="1157"/><use href="#dd" x="906" y="1134"/><use href="#dd" x="772" y="1338"/><use href="#dd" x="915" y="1338"/><use href="#dd" x="950" y="1408"/>
</g>
<g fill="#ef7d7b">
<use href="#dd" x="518" y="400"/><use href="#dd" x="494" y="468"/><use href="#dd" x="518" y="578"/><use href="#dd" x="600" y="602"/><use href="#dd" x="565" y="622"/><use href="#dd" x="390" y="636"/><use href="#dd" x="408" y="636"/><use href="#dd" x="424" y="645"/><use href="#dd" x="494" y="660"/><use href="#dd" x="512" y="668"/><use href="#dd" x="528" y="665"/><use href="#dd" x="546" y="660"/><use href="#dd" x="564" y="654"/><use href="#dd" x="516" y="710"/><use href="#dd" x="390" y="734"/><use href="#dd" x="494" y="823"/><use href="#dd" x="546" y="822"/><use href="#dd" x="600" y="810"/><use href="#dd" x="600" y="830"/><use href="#dd" x="600" y="875"/><use href="#dd" x="460" y="958"/><use href="#dd" x="453" y="990"/><use href="#dd" x="518" y="1012"/><use href="#dd" x="494" y="1337"/><use href="#dd" x="390" y="972"/>
<use href="#dd" x="820" y="774"/><use href="#dd" x="790" y="888"/><use href="#dd" x="840" y="910"/><use href="#dd" x="788" y="912"/><use href="#dd" x="864" y="926"/><use href="#dd" x="892" y="930"/><use href="#dd" x="800" y="935"/><use href="#dd" x="908" y="925"/><use href="#dd" x="740" y="1005"/><use href="#dd" x="775" y="1014"/><use href="#dd" x="790" y="980"/><use href="#dd" x="816" y="986"/><use href="#dd" x="872" y="990"/><use href="#dd" x="844" y="1040"/><use href="#dd" x="912" y="1022"/><use href="#dd" x="845" y="955"/><use href="#dd" x="782" y="1134"/><use href="#dd" x="824" y="1140"/><use href="#dd" x="780" y="1165"/><use href="#dd" x="800" y="1165"/><use href="#dd" x="870" y="1165"/><use href="#dd" x="890" y="1165"/><use href="#dd" x="890" y="1268"/><use href="#dd" x="820" y="1338"/><use href="#dd" x="814" y="1408"/>
</g>
<g fill="#8b1a1a">
<use href="#dd" x="470" y="425"/><use href="#dd" x="470" y="518"/><use href="#dd" x="518" y="507"/><use href="#dd" x="424" y="558"/><use href="#dd" x="567" y="552"/><use href="#dd" x="390" y="594"/><use href="#dd" x="460" y="622"/><use href="#dd" x="494" y="633"/><use href="#dd" x="530" y="632"/><use href="#dd" x="580" y="642"/><use href="#dd" x="600" y="637"/><use href="#dd" x="440" y="655"/><use href="#dd" x="460" y="658"/><use href="#dd" x="556" y="668"/><use href="#dd" x="390" y="690"/><use href="#dd" x="600" y="685"/><use href="#dd" x="474" y="720"/><use href="#dd" x="558" y="738"/><use href="#dd" x="600" y="734"/><use href="#dd" x="540" y="848"/>
<use href="#dd" x="786" y="842"/><use href="#dd" x="878" y="812"/><use href="#dd" x="913" y="795"/><use href="#dd" x="948" y="780"/><use href="#dd" x="755" y="882"/><use href="#dd" x="766" y="918"/><use href="#dd" x="828" y="906"/><use href="#dd" x="930" y="915"/><use href="#dd" x="766" y="973"/><use href="#dd" x="896" y="984"/><use href="#dd" x="948" y="963"/><use href="#dd" x="740" y="1134"/><use href="#dd" x="866" y="1134"/><use href="#dd" x="758" y="1165"/><use href="#dd" x="814" y="1165"/><use href="#dd" x="908" y="1165"/><use href="#dd" x="853" y="1185"/><use href="#dd" x="868" y="1338"/><use href="#dd" x="848" y="1408"/><use href="#dd" x="872" y="1408"/>
</g>
<g fill="#4c9a3c">
<use href="#dd" x="390" y="1408"/><use href="#dd" x="416" y="1408"/><use href="#dd" x="442" y="1408"/><use href="#dd" x="468" y="1408"/><use href="#dd" x="520" y="1408"/><use href="#dd" x="546" y="1408"/><use href="#dd" x="572" y="1408"/><use href="#dd" x="600" y="1408"/>
<use href="#dd" x="740" y="1408"/><use href="#dd" x="762" y="1408"/><use href="#dd" x="784" y="1408"/><use href="#dd" x="800" y="1408"/><use href="#dd" x="830" y="1408"/><use href="#dd" x="890" y="1408"/><use href="#dd" x="910" y="1408"/><use href="#dd" x="930" y="1408"/>
</g>
<use href="#dd" x="494" y="1408" fill="#f9d27a"/>
<g stroke="#000" stroke-width="2"><line x1="380" y1="680" x2="612" y2="680" vector-effect="non-scaling-stroke"/><line x1="730" y1="925" x2="960" y2="925" vector-effect="non-scaling-stroke"/></g>
</g>

<!-- Panel e -->
<text x="650" y="1140" style="font-size:28px;font-weight:bold">e</text>
<text x="680" y="1285" transform="rotate(-90 680 1285)" text-anchor="middle" style="font-size:24px">SARS-CoV NT50</text>
<text x="920" y="1565" text-anchor="middle" style="font-size:23px">SARS-CoV-2 NT50</text>
<g stroke="#000" stroke-width="2" fill="none">
<line x1="729.4" y1="1197" x2="729.4" y2="1509"/>
<line x1="728" y1="1508" x2="1116" y2="1508" stroke-width="2.5"/>
<path d="M723 1197H729M723 1275H729M723 1353H729M723 1430H729"/>
<path d="M729.4 1508V1515M806.5 1508V1515M884 1508V1515M961 1508V1515M1038.5 1508V1515M1116 1508V1515"/>
</g>
<g class="tk" text-anchor="end">
<text x="721" y="1203">10<tspan dy="-6" font-size="10">3</tspan></text>
<text x="721" y="1281">10<tspan dy="-6" font-size="10">2</tspan></text>
<text x="721" y="1359">10<tspan dy="-6" font-size="10">1</tspan></text>
<text x="721" y="1436">10<tspan dy="-6" font-size="10">0</tspan></text>
<text x="721" y="1514">10<tspan dy="-6" font-size="10">-1</tspan></text>
</g>
<g class="tk" text-anchor="middle">
<text x="727" y="1536">10<tspan dy="-6" font-size="10">0</tspan></text>
<text x="804" y="1536">10<tspan dy="-6" font-size="10">1</tspan></text>
<text x="882" y="1536">10<tspan dy="-6" font-size="10">2</tspan></text>
<text x="959" y="1536">10<tspan dy="-6" font-size="10">3</tspan></text>
<text x="1036" y="1536">10<tspan dy="-6" font-size="10">4</tspan></text>
<text x="1114" y="1536">10<tspan dy="-6" font-size="10">5</tspan></text>
</g>
<circle cx="788" cy="1180" r="6" fill="#ef7d7b"/><circle cx="788" cy="1211" r="6" fill="#8b1a1a"/>
<g style="font-size:17px"><text x="798" y="1187">Hospitalized</text><text x="798" y="1218">ICU/Deceased</text></g>
<g style="font-size:17px"><text x="1043" y="1447">p = 0.0099</text><text x="1043" y="1470">r<tspan dy="4" font-size="12">s</tspan><tspan dy="-4"> = 0.3766</tspan></text></g>
<g transform="translate(586.5,1076.4) scale(0.376,0.3139)">
<g fill="#ef7d7b">
<use href="#dd" x="1208" y="456"/><use href="#dd" x="1268" y="602"/><use href="#dd" x="1030" y="580"/><use href="#dd" x="995" y="596"/><use href="#dd" x="1070" y="612"/><use href="#dd" x="1030" y="626"/><use href="#dd" x="1046" y="622"/><use href="#dd" x="1090" y="636"/><use href="#dd" x="1110" y="648"/><use href="#dd" x="1042" y="686"/><use href="#dd" x="905" y="627"/><use href="#dd" x="730" y="675"/><use href="#dd" x="775" y="710"/><use href="#dd" x="762" y="738"/><use href="#dd" x="873" y="720"/><use href="#dd" x="896" y="700"/><use href="#dd" x="442" y="871"/><use href="#dd" x="745" y="871"/><use href="#dd" x="874" y="845"/><use href="#dd" x="888" y="871"/><use href="#dd" x="1060" y="838"/><use href="#dd" x="1048" y="871"/><use href="#dd" x="973" y="980"/><use href="#dd" x="895" y="1054"/><use href="#dd" x="849" y="1129"/>
</g>
<g fill="#8b1a1a">
<use href="#dd" x="1062" y="462"/><use href="#dd" x="1072" y="478"/><use href="#dd" x="1042" y="494"/><use href="#dd" x="1017" y="528"/><use href="#dd" x="1007" y="572"/><use href="#dd" x="873" y="610"/><use href="#dd" x="1163" y="608"/><use href="#dd" x="1246" y="598"/><use href="#dd" x="1128" y="656"/><use href="#dd" x="1175" y="670"/><use href="#dd" x="1054" y="680"/><use href="#dd" x="968" y="838"/><use href="#dd" x="984" y="838"/><use href="#dd" x="1012" y="892"/><use href="#dd" x="1062" y="871"/><use href="#dd" x="1133" y="871"/><use href="#dd" x="1097" y="1054"/><use href="#dd" x="975" y="1129"/><use href="#dd" x="1040" y="1129"/>
</g>
</g>
</svg>
</body></html>
